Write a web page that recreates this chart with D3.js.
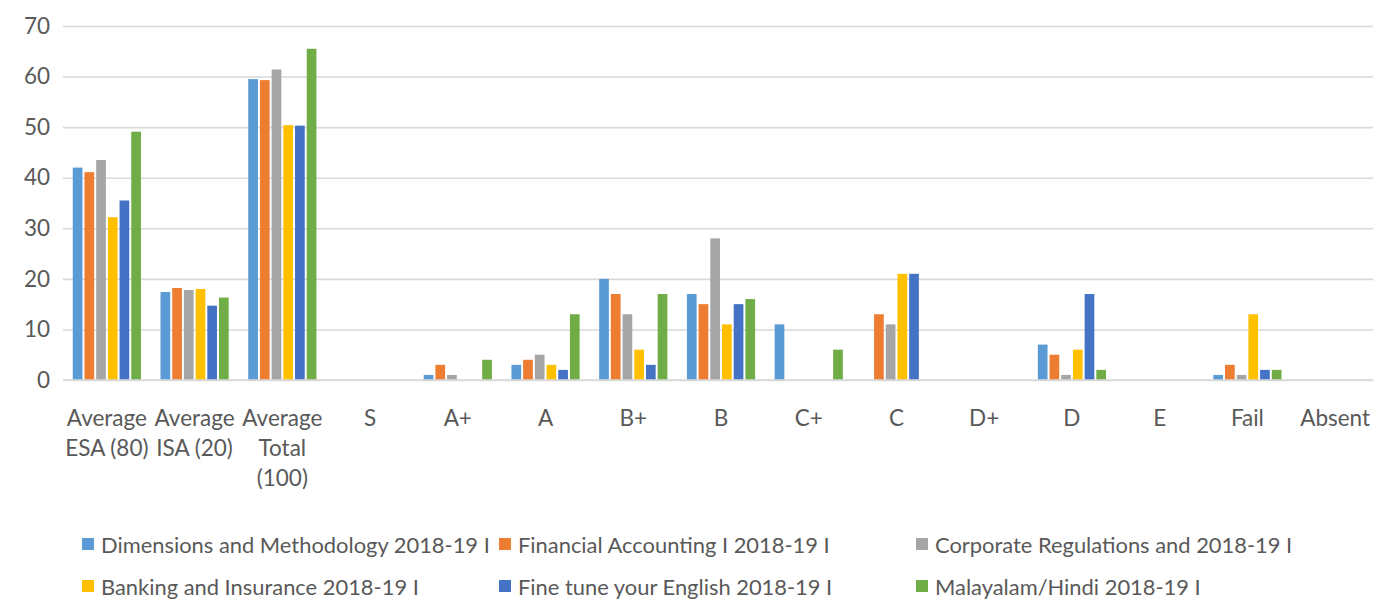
<!DOCTYPE html>
<html>
<head>
<meta charset="utf-8">
<script src="https://cdn.jsdelivr.net/npm/d3@7"></script>
<style>
  html, body { margin: 0; padding: 0; background: #fff; }
  svg { display: block; font-family: Lato, "Open Sans", sans-serif; }
</style>
</head>
<body>
<svg id="chart" width="1373" height="599"></svg>
<script>
// Categories along the x axis
const categories = ["Average ESA (80)", "Average ISA (20)", "Average Total (100)",
  "S", "A+", "A", "B+", "B", "C+", "C", "D+", "D", "E", "Fail", "Absent"];

// One value per category for each course
const dimensionsMethodology = [42.0, 17.4, 59.5, 0, 1, 3, 20, 17, 11, 0, 0, 7, 0, 1, 0];
const financialAccounting   = [41.1, 18.2, 59.3, 0, 3, 4, 17, 15, 0, 13, 0, 5, 0, 3, 0];
const corporateRegulations  = [43.5, 17.8, 61.4, 0, 1, 5, 13, 28, 0, 11, 0, 1, 0, 1, 0];
const bankingInsurance      = [32.2, 18.0, 50.4, 0, 0, 3, 6, 11, 0, 21, 0, 6, 0, 13, 0];
const fineTuneEnglish       = [35.5, 14.7, 50.3, 0, 0, 2, 3, 15, 0, 21, 0, 17, 0, 2, 0];
const malayalamHindi        = [49.1, 16.3, 65.5, 0, 4, 13, 17, 16, 6, 0, 0, 2, 0, 2, 0];

const seriesNames = [
  "Dimensions and Methodology 2018-19 I",
  "Financial Accounting I 2018-19 I",
  "Corporate Regulations and 2018-19 I",
  "Banking and Insurance 2018-19 I",
  "Fine tune your English 2018-19 I",
  "Malayalam/Hindi 2018-19 I"
];
const seriesColors = ["#5B9BD5", "#ED7D31", "#A5A5A5", "#FFC000", "#4472C4", "#70AD47"];
const yTicks = [0, 10, 20, 30, 40, 50, 60, 70];

const seriesValues = [dimensionsMethodology, financialAccounting, corporateRegulations,
  bankingInsurance, fineTuneEnglish, malayalamHindi];
const series = seriesNames.map((name, i) => ({ name, color: seriesColors[i], values: seriesValues[i] }));

const svg = d3.select("#chart");
const plotLeft = 63, plotRight = 1379, plotTop = 26, plotBottom = 380;
const textColor = "#595959", gridColor = "#D9D9D9";
const fontSize = 22.5, legendFontSize = 21.9;

const x = d3.scaleBand().domain(categories).range([plotLeft, plotRight]).paddingInner(0).paddingOuter(0);
// Six bars per category with a gap of 1.5 bar widths split across both sides
const gapRatio = 1.5;
const barStep = x.bandwidth() / (series.length + gapRatio);
const xs = d3.scaleBand().domain(d3.range(series.length))
  .range([barStep * gapRatio / 2, x.bandwidth() - barStep * gapRatio / 2]);

const y = d3.scaleLinear().domain([0, 70]).range([plotBottom, plotTop]);

// Horizontal gridlines with value labels
const yAxis = svg.append("g")
  .attr("transform", `translate(${plotLeft},0)`)
  .call(d3.axisLeft(y).tickValues(yTicks).tickSize(-(plotRight - plotLeft)).tickPadding(13).tickFormat(d3.format("d")));
yAxis.select(".domain").remove();
yAxis.selectAll(".tick line").attr("stroke", gridColor).attr("stroke-width", 1.6);
yAxis.selectAll(".tick text").attr("fill", textColor).attr("font-size", fontSize)
  .attr("font-family", "Lato, sans-serif");

// Bars
const groups = svg.append("g").selectAll("g")
  .data(series).join("g").attr("fill", d => d.color);
groups.selectAll("rect")
  .data((s, si) => s.values.map((v, ci) => ({ v, ci, si })).filter(d => d.v > 0))
  .join("rect")
  .attr("x", d => x(categories[d.ci]) + xs(d.si) + 1)
  .attr("width", xs.bandwidth() - 2)
  .attr("y", d => y(d.v))
  .attr("height", d => y(0) - y(d.v));

// Category axis line
svg.append("line")
  .attr("x1", plotLeft).attr("x2", plotRight)
  .attr("y1", y(0)).attr("y2", y(0))
  .attr("stroke", gridColor).attr("stroke-width", 1.6);

// Category labels, wrapped to the category width
const xLabels = svg.append("g");
categories.forEach(cat => {
  const cx = x(cat) + x.bandwidth() / 2;
  const t = xLabels.append("text")
    .attr("x", cx).attr("y", 426)
    .attr("text-anchor", "middle")
    .attr("fill", textColor).attr("font-size", fontSize);
  const words = cat.split(" ");
  let lines = [], line = [];
  const probe = svg.append("text").attr("font-size", fontSize);
  words.forEach(w => {
    const trial = line.concat(w).join(" ");
    probe.text(trial);
    if (line.length && probe.node().getComputedTextLength() > x.bandwidth()) {
      lines.push(line.join(" "));
      line = [w];
    } else {
      line.push(w);
    }
  });
  lines.push(line.join(" "));
  probe.remove();
  lines.forEach((l, i) => {
    t.append("tspan").attr("x", cx).attr("dy", i === 0 ? 0 : 30).text(l);
  });
});

// Legend: three columns, two rows
const legend = svg.append("g");
series.forEach((s, i) => {
  const col = i % 3, row = Math.floor(i / 3);
  const gx = 82 + col * 417, gy = 544 + row * 42;
  legend.append("rect")
    .attr("x", gx).attr("y", gy - 6)
    .attr("width", 12).attr("height", 12)
    .attr("fill", s.color);
  legend.append("text")
    .attr("x", gx + 19).attr("y", gy)
    .attr("dominant-baseline", "central")
    .attr("fill", textColor).attr("font-size", legendFontSize)
    .text(s.name);
});
</script>
</body>
</html>
